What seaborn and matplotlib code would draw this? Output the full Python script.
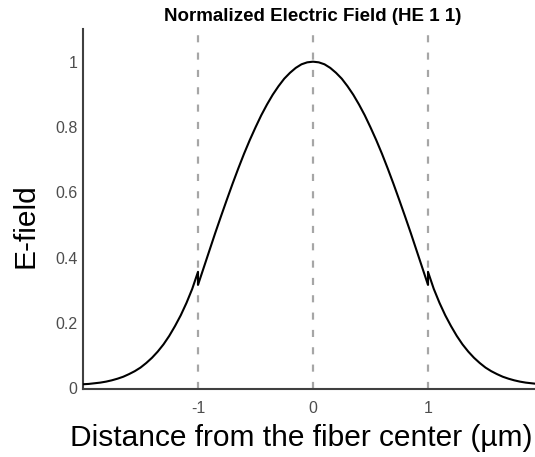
import matplotlib
matplotlib.use("Agg")
import matplotlib.pyplot as plt
import seaborn as sns
import pandas as pd

# ---- data ----
# left cladding (x from -2 to -1)
x_left = [-2.00, -1.95, -1.90, -1.85, -1.80, -1.75, -1.70, -1.65, -1.60, -1.55, -1.50,
          -1.45, -1.40, -1.35, -1.30, -1.25, -1.20, -1.15, -1.10, -1.05, -1.00]
e_left = [0.013, 0.014, 0.016, 0.018, 0.021, 0.025, 0.030, 0.036, 0.044, 0.053, 0.064,
          0.078, 0.094, 0.113, 0.135, 0.161, 0.191, 0.224, 0.262, 0.305, 0.357]
# core (x from -1 to 1)
x_core = [-1.00, -0.95, -0.90, -0.85, -0.80, -0.75, -0.70, -0.65, -0.60, -0.55, -0.50,
          -0.45, -0.40, -0.35, -0.30, -0.25, -0.20, -0.15, -0.10, -0.05, 0.00,
          0.05, 0.10, 0.15, 0.20, 0.25, 0.30, 0.35, 0.40, 0.45, 0.50,
          0.55, 0.60, 0.65, 0.70, 0.75, 0.80, 0.85, 0.90, 0.95, 1.00]
e_core = [0.317, 0.370, 0.423, 0.476, 0.527, 0.577, 0.626, 0.673, 0.718, 0.760, 0.799,
          0.836, 0.869, 0.899, 0.925, 0.948, 0.966, 0.981, 0.992, 0.998, 1.000,
          0.998, 0.992, 0.981, 0.966, 0.948, 0.925, 0.899, 0.869, 0.836, 0.799,
          0.760, 0.718, 0.673, 0.626, 0.577, 0.527, 0.476, 0.423, 0.370, 0.317]
# right cladding (x from 1 to 2)
x_right = [1.00, 1.05, 1.10, 1.15, 1.20, 1.25, 1.30, 1.35, 1.40, 1.45, 1.50,
           1.55, 1.60, 1.65, 1.70, 1.75, 1.80, 1.85, 1.90, 1.95, 2.00]
e_right = [0.357, 0.305, 0.262, 0.224, 0.191, 0.161, 0.135, 0.113, 0.094, 0.078, 0.064,
           0.053, 0.044, 0.036, 0.030, 0.025, 0.021, 0.018, 0.016, 0.014, 0.013]

boundaries = [-1, 0, 1]
x_ticks = [-1, 0, 1]
x_tick_labels = ["-1", "0", "1"]
y_ticks = [0, 0.2, 0.4, 0.6, 0.8, 1]
y_tick_labels = ["0", "0.2", "0.4", "0.6", "0.8", "1"]

title = "Normalized Electric Field (HE 1 1)"
xlabel = "Distance from the fiber center (\u00b5m)"
ylabel = "E-field"

df = pd.DataFrame({"x": x_left + x_core + x_right,
                   "E": e_left + e_core + e_right})

sns.set_theme(style="white")
plt.rcParams["font.family"] = ["Liberation Sans", "DejaVu Sans"]

fig = plt.figure(figsize=(5.35, 4.57), dpi=100)
ax = fig.add_axes([83 / 535, 68.5 / 457, 460 / 535, 359.5 / 457])

for b in boundaries:
    ax.axvline(b, color="#a6a6a6", lw=1.6, dashes=(3.2, 4.6), zorder=1)

sns.lineplot(data=df, x="x", y="E", estimator=None, sort=False,
             color="black", lw=1.5, ax=ax, zorder=3)

ax.set_xlim(-2, 2)
ax.set_ylim(0, 1.1)
ax.set_xticks(x_ticks)
ax.set_xticklabels(x_tick_labels)
ax.set_yticks(y_ticks)
ax.set_yticklabels(y_tick_labels)

ax.tick_params(axis="both", direction="in", length=3, width=1.0,
               color="#262626", labelsize=11.5, labelcolor="#4d4d4d")
ax.tick_params(axis="y", pad=4)
ax.tick_params(axis="x", pad=9)
for s in ["top", "right"]:
    ax.spines[s].set_visible(False)
for s in ["left", "bottom"]:
    ax.spines[s].set_color("#404040")
    ax.spines[s].set_linewidth(1.5)

ax.set_title(title, fontsize=13.5, fontweight="bold", pad=5.5, color="black")
ax.set_xlabel(xlabel, fontsize=21.5, color="black")
ax.set_ylabel(ylabel, fontsize=21.5, color="black")
ax.xaxis.label.set_va("center")
ax.yaxis.label.set_va("center")
ax.xaxis.set_label_coords((301.5 - 83) / 460, (388.5 - 438) / 359.5)
ax.yaxis.set_label_coords((26 - 83) / 460, (388.5 - 226) / 359.5)

fig.savefig("out.png", dpi=100)
